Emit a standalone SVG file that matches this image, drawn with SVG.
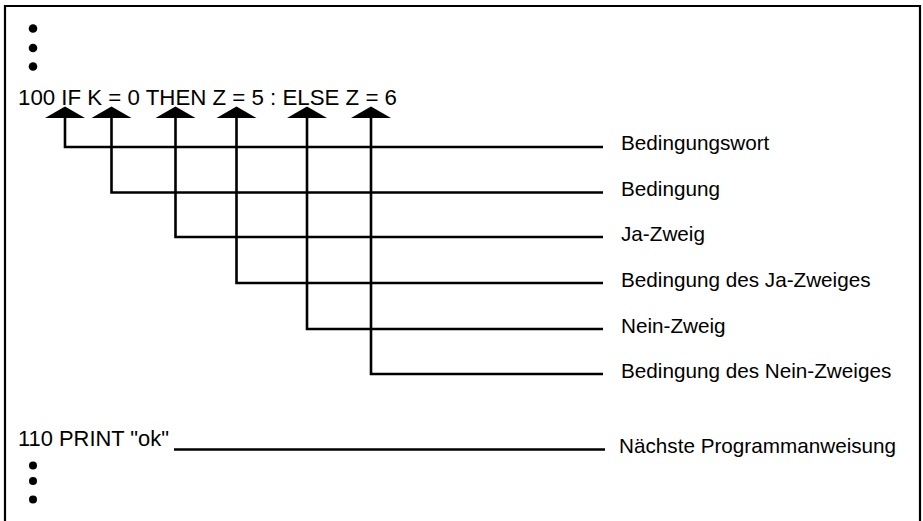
<svg xmlns="http://www.w3.org/2000/svg" width="923" height="521" viewBox="0 0 923 521">
  <style>
    .frame { fill: none; stroke: #000; stroke-width: 2.2; }
    .code { font-family: "Liberation Sans", Arial, sans-serif; font-size: 22px; fill: #000; }
    .label { font-family: "Liberation Sans", Arial, sans-serif; font-size: 20.7px; fill: #000; }
    .wire { fill: none; stroke: #000; stroke-width: 2.6; stroke-linejoin: miter; }
    .dot { fill: #000; }
    .head { fill: #000; }
  </style>
  <defs>
    <!-- wide flat arrowhead, tip at origin -->
    <polygon id="arrowhead" class="head" points="0,-0.5 20,11 -20,11"/>
  </defs>

  <rect width="923" height="521" fill="#fff"/>

  <!-- page frame, open at the bottom -->
  <path class="frame" d="M5,521 V6 H920 V521"/>

  <!-- continuation dots before line 100 -->
  <g id="dots-top">
    <circle class="dot" cx="33" cy="28.5" r="4.3"/>
    <circle class="dot" cx="33" cy="48" r="4.3"/>
    <circle class="dot" cx="33" cy="66.5" r="4.3"/>
  </g>

  <!-- line 100 -->
  <g id="stmt-100">
    <text class="code" x="18" y="104.5" textLength="379" lengthAdjust="spacingAndGlyphs">100 IF K = 0 THEN Z = 5 : ELSE Z = 6</text>
  </g>

  <!-- connectors from the statement parts to their descriptions -->
  <g id="connectors">
    <use href="#arrowhead" x="65" y="107"/>
    <use href="#arrowhead" x="111.5" y="107"/>
    <use href="#arrowhead" x="175.5" y="107"/>
    <use href="#arrowhead" x="236.5" y="107"/>
    <use href="#arrowhead" x="307" y="107"/>
    <use href="#arrowhead" x="371" y="107"/>
    <path class="wire" d="M65,117 V147 H603"/>
    <path class="wire" d="M111.5,117 V192.5 H603"/>
    <path class="wire" d="M175.5,117 V237 H603"/>
    <path class="wire" d="M236.5,117 V283 H603"/>
    <path class="wire" d="M307,117 V329 H603"/>
    <path class="wire" d="M371,117 V374 H603"/>
    <path class="wire" d="M174,449.5 H605"/>
  </g>

  <!-- descriptions -->
  <g id="lbl-bedingungswort"><text class="label" x="621" y="150">Bedingungswort</text></g>
  <g id="lbl-bedingung"><text class="label" x="621" y="196">Bedingung</text></g>
  <g id="lbl-ja-zweig"><text class="label" x="621" y="240.5">Ja-Zweig</text></g>
  <g id="lbl-bed-ja"><text class="label" x="621" y="286.5">Bedingung des Ja-Zweiges</text></g>
  <g id="lbl-nein-zweig"><text class="label" x="621" y="332.5">Nein-Zweig</text></g>
  <g id="lbl-bed-nein"><text class="label" x="621" y="377.5">Bedingung des Nein-Zweiges</text></g>

  <!-- line 110 -->
  <g id="stmt-110">
    <text class="code" x="18" y="445.5" textLength="151" lengthAdjust="spacingAndGlyphs">110 PRINT "ok"</text>
  </g>
  <g id="lbl-naechste"><text class="label" x="619" y="452.5">Nächste Programmanweisung</text></g>

  <!-- continuation dots after line 110 -->
  <g id="dots-bottom">
    <circle class="dot" cx="33" cy="465.5" r="4"/>
    <circle class="dot" cx="33" cy="481" r="4"/>
    <circle class="dot" cx="33" cy="499.5" r="4"/>
  </g>
</svg>
